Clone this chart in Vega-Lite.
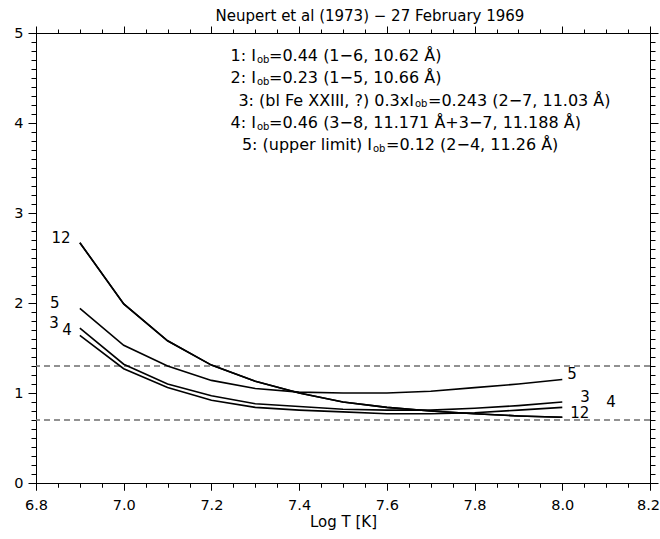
{
  "$schema": "https://vega.github.io/schema/vega-lite/v6.json",
  "autosize": {"type": "none"},
  "padding": {"left": 36, "top": 33, "right": 10, "bottom": 56},
  "width": 614,
  "height": 450,
  "background": "white",
  "title": {"text": "Neupert et al (1973) − 27 February 1969", "fontSize": 15, "fontWeight": "normal", "font": "DejaVu Sans", "color": "black", "dx": 27, "offset": 1, "anchor": "middle"},
  "config": {
    "view": {"stroke": null},
    "font": "DejaVu Sans",
    "axis": {"grid": false, "ticks": true, "tickOpacity": 1, "domainColor": "black", "tickColor": "black", "labelColor": "black", "titleColor": "black", "labelFont": "DejaVu Sans", "titleFont": "DejaVu Sans", "labelFontSize": 14.5, "titleFontSize": 15, "titleFontWeight": "normal", "domainWidth": 1, "tickWidth": 1},
    "axisX": {"ticks": true, "tickOpacity": 1, "tickWidth": 1, "tickColor": "black"},
    "axisBottom": {"ticks": true, "tickOpacity": 1, "tickWidth": 1, "tickColor": "black"}
  },
  "datasets": {
    "curves": [
      {"series": "1", "logT": 6.9, "ratio": 2.67}, {"series": "1", "logT": 7.0, "ratio": 1.99}, {"series": "1", "logT": 7.1, "ratio": 1.58}, {"series": "1", "logT": 7.2, "ratio": 1.31}, {"series": "1", "logT": 7.3, "ratio": 1.13}, {"series": "1", "logT": 7.4, "ratio": 1.0}, {"series": "1", "logT": 7.5, "ratio": 0.9}, {"series": "1", "logT": 7.6, "ratio": 0.84}, {"series": "1", "logT": 7.7, "ratio": 0.8}, {"series": "1", "logT": 7.8, "ratio": 0.77}, {"series": "1", "logT": 7.9, "ratio": 0.745}, {"series": "1", "logT": 8.0, "ratio": 0.73},
      {"series": "2", "logT": 6.9, "ratio": 2.67}, {"series": "2", "logT": 7.0, "ratio": 1.99}, {"series": "2", "logT": 7.1, "ratio": 1.58}, {"series": "2", "logT": 7.2, "ratio": 1.31}, {"series": "2", "logT": 7.3, "ratio": 1.13}, {"series": "2", "logT": 7.4, "ratio": 1.0}, {"series": "2", "logT": 7.5, "ratio": 0.9}, {"series": "2", "logT": 7.6, "ratio": 0.84}, {"series": "2", "logT": 7.7, "ratio": 0.8}, {"series": "2", "logT": 7.8, "ratio": 0.77}, {"series": "2", "logT": 7.9, "ratio": 0.745}, {"series": "2", "logT": 8.0, "ratio": 0.73},
      {"series": "3", "logT": 6.9, "ratio": 1.72}, {"series": "3", "logT": 7.0, "ratio": 1.32}, {"series": "3", "logT": 7.1, "ratio": 1.1}, {"series": "3", "logT": 7.2, "ratio": 0.97}, {"series": "3", "logT": 7.3, "ratio": 0.88}, {"series": "3", "logT": 7.4, "ratio": 0.85}, {"series": "3", "logT": 7.5, "ratio": 0.82}, {"series": "3", "logT": 7.6, "ratio": 0.81}, {"series": "3", "logT": 7.7, "ratio": 0.81}, {"series": "3", "logT": 7.8, "ratio": 0.83}, {"series": "3", "logT": 7.9, "ratio": 0.86}, {"series": "3", "logT": 8.0, "ratio": 0.9},
      {"series": "4", "logT": 6.9, "ratio": 1.64}, {"series": "4", "logT": 7.0, "ratio": 1.27}, {"series": "4", "logT": 7.1, "ratio": 1.06}, {"series": "4", "logT": 7.2, "ratio": 0.92}, {"series": "4", "logT": 7.3, "ratio": 0.84}, {"series": "4", "logT": 7.4, "ratio": 0.81}, {"series": "4", "logT": 7.5, "ratio": 0.79}, {"series": "4", "logT": 7.6, "ratio": 0.77}, {"series": "4", "logT": 7.7, "ratio": 0.77}, {"series": "4", "logT": 7.8, "ratio": 0.78}, {"series": "4", "logT": 7.9, "ratio": 0.81}, {"series": "4", "logT": 8.0, "ratio": 0.84},
      {"series": "5", "logT": 6.9, "ratio": 1.94}, {"series": "5", "logT": 7.0, "ratio": 1.53}, {"series": "5", "logT": 7.1, "ratio": 1.3}, {"series": "5", "logT": 7.2, "ratio": 1.14}, {"series": "5", "logT": 7.3, "ratio": 1.05}, {"series": "5", "logT": 7.4, "ratio": 1.01}, {"series": "5", "logT": 7.5, "ratio": 1.0}, {"series": "5", "logT": 7.6, "ratio": 1.0}, {"series": "5", "logT": 7.7, "ratio": 1.02}, {"series": "5", "logT": 7.8, "ratio": 1.06}, {"series": "5", "logT": 7.9, "ratio": 1.1}, {"series": "5", "logT": 8.0, "ratio": 1.15}
    ],
    "levels": [{"ratio": 1.3}, {"ratio": 0.7}],
    "curveLabels": [
      {"label": "12", "logT": 6.857, "ratio": 2.72},
      {"label": "5", "logT": 6.843, "ratio": 2.0},
      {"label": "3", "logT": 6.841, "ratio": 1.78},
      {"label": "4", "logT": 6.871, "ratio": 1.7},
      {"label": "5", "logT": 8.022, "ratio": 1.21},
      {"label": "3", "logT": 8.052, "ratio": 0.96},
      {"label": "4", "logT": 8.111, "ratio": 0.9},
      {"label": "12", "logT": 8.04, "ratio": 0.78}
    ],
    "notePrefix": [
      {"text": "1: I", "logT": 7.3016, "ratio": 4.744},
      {"text": "2: I", "logT": 7.3016, "ratio": 4.5},
      {"text": "3: (bl Fe XXIII, ?) 0.3xI", "logT": 7.6618, "ratio": 4.25},
      {"text": "4: I", "logT": 7.3016, "ratio": 4.0},
      {"text": "5: (upper limit) I", "logT": 7.5661, "ratio": 3.756}
    ],
    "noteSub": [
      {"text": "ob", "logT": 7.3039, "ratio": 4.7},
      {"text": "ob", "logT": 7.3039, "ratio": 4.456},
      {"text": "ob", "logT": 7.6641, "ratio": 4.206},
      {"text": "ob", "logT": 7.3039, "ratio": 3.956},
      {"text": "ob", "logT": 7.5684, "ratio": 3.711}
    ],
    "noteSuffix": [
      {"text": "=0.44 (1−6, 10.62 Å)", "logT": 7.3313, "ratio": 4.744},
      {"text": "=0.23 (1−5, 10.66 Å)", "logT": 7.3313, "ratio": 4.5},
      {"text": "=0.243 (2−7, 11.03 Å)", "logT": 7.6938, "ratio": 4.25},
      {"text": "=0.46 (3−8, 11.171 Å+3−7, 11.188 Å)", "logT": 7.3313, "ratio": 4.0},
      {"text": "=0.12 (2−4, 11.26 Å)", "logT": 7.598, "ratio": 3.756}
    ]
  },
  "resolve": {"axis": {"x": "independent", "y": "independent"}},
  "layer": [
    {
      "data": {"name": "levels"},
      "mark": {"type": "rule", "strokeDash": [6, 4], "color": "#6e6e6e", "strokeWidth": 1.6},
      "encoding": {
        "y": {"field": "ratio", "type": "quantitative", "scale": {"domain": [0, 5], "nice": false, "zero": false}, "axis": null}
      }
    },
    {
      "data": {"name": "curves"},
      "mark": {"type": "line", "color": "black", "clip": true},
      "encoding": {
        "x": {"field": "logT", "type": "quantitative", "scale": {"domain": [6.8, 8.2], "nice": false, "zero": false},
              "axis": {"orient": "top", "title": null, "labels": false, "ticks": true, "tickColor": "black", "tickWidth": 1, "tickSize": 7, "values": [6.8, 7.0, 7.2, 7.4, 7.6, 7.8, 8.0, 8.2]}},
        "y": {"field": "ratio", "type": "quantitative", "scale": {"domain": [0, 5], "nice": false, "zero": false},
              "axis": {"orient": "left", "title": null, "values": [0, 1, 2, 3, 4, 5], "format": "d", "ticks": true, "tickColor": "black", "tickWidth": 1, "tickSize": 8, "labelPadding": 5, "labelFlush": false, "labelOverlap": false}},
        "detail": {"field": "series"},
        "strokeWidth": {"field": "series", "type": "nominal", "scale": {"domain": ["1", "2", "3", "4", "5"], "range": [1.6, 1.6, 1, 1, 1]}, "legend": null}
      }
    },
    {
      "data": {"name": "curveLabels"},
      "transform": [{"filter": "datum.logT < 7.5"}],
      "mark": {"type": "text", "fontSize": 15, "color": "black", "align": "center", "baseline": "middle"},
      "encoding": {
        "x": {"field": "logT", "type": "quantitative", "scale": {"domain": [6.8, 8.2], "nice": false, "zero": false},
              "axis": {"orient": "top", "title": null, "labels": false, "domain": false, "ticks": true, "tickColor": "black", "tickWidth": 1, "tickSize": 4, "values": [6.8, 6.85, 6.9, 6.95, 7.0, 7.05, 7.1, 7.15, 7.2, 7.25, 7.3, 7.35, 7.4, 7.45, 7.5, 7.55, 7.6, 7.65, 7.7, 7.75, 7.8, 7.85, 7.9, 7.95, 8.0, 8.05, 8.1, 8.15, 8.2]}},
        "y": {"field": "ratio", "type": "quantitative", "scale": {"domain": [0, 5], "nice": false, "zero": false},
              "axis": {"orient": "left", "title": null, "labels": false, "domain": false, "ticks": true, "tickColor": "black", "tickWidth": 1, "tickSize": 5, "values": [0, 0.1, 0.2, 0.3, 0.4, 0.5, 0.6, 0.7, 0.8, 0.9, 1, 1.1, 1.2, 1.3, 1.4, 1.5, 1.6, 1.7, 1.8, 1.9, 2, 2.1, 2.2, 2.3, 2.4, 2.5, 2.6, 2.7, 2.8, 2.9, 3, 3.1, 3.2, 3.3, 3.4, 3.5, 3.6, 3.7, 3.8, 3.9, 4, 4.1, 4.2, 4.3, 4.4, 4.5, 4.6, 4.7, 4.8, 4.9, 5]}},
        "text": {"field": "label"}
      }
    },
    {
      "data": {"name": "curveLabels"},
      "transform": [{"filter": "datum.logT > 7.5"}],
      "mark": {"type": "text", "fontSize": 15, "color": "black", "align": "center", "baseline": "middle"},
      "encoding": {
        "x": {"field": "logT", "type": "quantitative", "scale": {"domain": [6.8, 8.2], "nice": false, "zero": false},
              "axis": {"orient": "top", "offset": -450, "title": null, "labels": false, "domain": false, "ticks": true, "tickColor": "black", "tickWidth": 1, "tickSize": -4, "values": [6.8, 6.85, 6.9, 6.95, 7.0, 7.05, 7.1, 7.15, 7.2, 7.25, 7.3, 7.35, 7.4, 7.45, 7.5, 7.55, 7.6, 7.65, 7.7, 7.75, 7.8, 7.85, 7.9, 7.95, 8.0, 8.05, 8.1, 8.15, 8.2]}},
        "y": {"field": "ratio", "type": "quantitative", "scale": {"domain": [0, 5], "nice": false, "zero": false}, "axis": null},
        "text": {"field": "label"}
      }
    },
    {
      "data": {"name": "notePrefix"},
      "mark": {"type": "text", "fontSize": 16, "color": "black", "align": "right", "baseline": "middle"},
      "encoding": {
        "x": {"field": "logT", "type": "quantitative", "scale": {"domain": [6.8, 8.2], "nice": false, "zero": false},
              "axis": {"orient": "bottom", "title": "Log T [K]", "values": [6.8, 7.0, 7.2, 7.4, 7.6, 7.8, 8.0, 8.2], "format": ".1f", "zindex": 2, "ticks": true, "tickColor": "black", "tickWidth": 1, "tickOpacity": 1, "tickSize": 7, "labelPadding": 8, "titlePadding": 3, "labelFlush": false, "labelOverlap": false, "labelOffset": {"condition": {"test": "datum.value > 8.1", "value": -2}, "value": 0},
                       "encode": {"ticks": {"update": {"stroke": {"value": "black"}, "strokeWidth": {"value": 1}, "strokeOpacity": {"value": 1}, "opacity": {"value": 1}}}}}},
        "y": {"field": "ratio", "type": "quantitative", "scale": {"domain": [0, 5], "nice": false, "zero": false},
              "axis": {"orient": "right", "title": null, "labels": false, "ticks": true, "tickColor": "black", "tickWidth": 1, "tickSize": 8, "values": [0, 1, 2, 3, 4, 5]}},
        "text": {"field": "text"}
      }
    },
    {
      "data": {"name": "noteSub"},
      "mark": {"type": "text", "fontSize": 10, "color": "black", "align": "left", "baseline": "middle"},
      "encoding": {
        "x": {"field": "logT", "type": "quantitative", "scale": {"domain": [6.8, 8.2], "nice": false, "zero": false},
              "axis": {"orient": "bottom", "title": null, "labels": false, "domain": false, "zindex": 2, "ticks": true, "tickColor": "black", "tickWidth": 1, "tickOpacity": 1, "tickSize": 4, "values": [6.8, 6.85, 6.9, 6.95, 7.0, 7.05, 7.1, 7.15, 7.2, 7.25, 7.3, 7.35, 7.4, 7.45, 7.5, 7.55, 7.6, 7.65, 7.7, 7.75, 7.8, 7.85, 7.9, 7.95, 8.0, 8.05, 8.1, 8.15, 8.2],
                       "encode": {"ticks": {"update": {"stroke": {"value": "black"}, "strokeWidth": {"value": 1}, "strokeOpacity": {"value": 1}, "opacity": {"value": 1}}}}}},
        "y": {"field": "ratio", "type": "quantitative", "scale": {"domain": [0, 5], "nice": false, "zero": false},
              "axis": {"orient": "right", "title": null, "labels": false, "domain": false, "ticks": true, "tickColor": "black", "tickWidth": 1, "tickSize": 5, "values": [0, 0.1, 0.2, 0.3, 0.4, 0.5, 0.6, 0.7, 0.8, 0.9, 1, 1.1, 1.2, 1.3, 1.4, 1.5, 1.6, 1.7, 1.8, 1.9, 2, 2.1, 2.2, 2.3, 2.4, 2.5, 2.6, 2.7, 2.8, 2.9, 3, 3.1, 3.2, 3.3, 3.4, 3.5, 3.6, 3.7, 3.8, 3.9, 4, 4.1, 4.2, 4.3, 4.4, 4.5, 4.6, 4.7, 4.8, 4.9, 5]}},
        "text": {"field": "text"}
      }
    },
    {
      "data": {"name": "noteSuffix"},
      "mark": {"type": "text", "fontSize": 16, "color": "black", "align": "left", "baseline": "middle"},
      "encoding": {
        "x": {"field": "logT", "type": "quantitative", "scale": {"domain": [6.8, 8.2], "nice": false, "zero": false},
              "axis": {"orient": "top", "offset": -450, "title": null, "labels": false, "domain": false, "ticks": true, "tickColor": "black", "tickWidth": 1, "tickSize": -7, "values": [6.8, 7.0, 7.2, 7.4, 7.6, 7.8, 8.0, 8.2]}},
        "y": {"field": "ratio", "type": "quantitative", "scale": {"domain": [0, 5], "nice": false, "zero": false}, "axis": null},
        "text": {"field": "text"}
      }
    }
  ]
}
